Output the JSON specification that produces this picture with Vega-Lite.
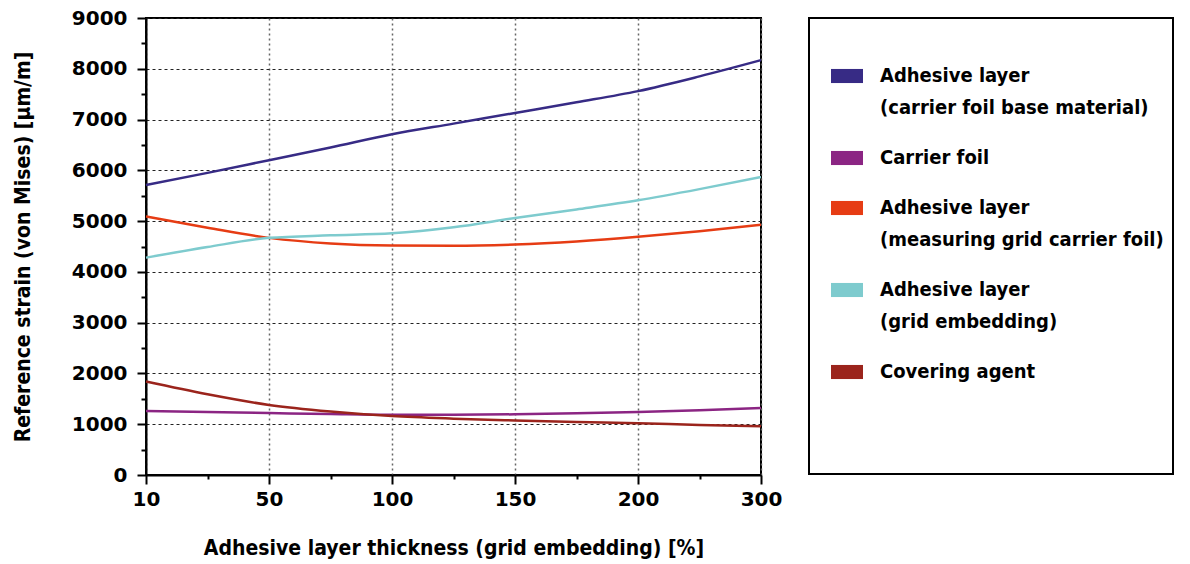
{
  "$schema": "https://vega.github.io/schema/vega-lite/v6.json",
  "padding": {"left": 11, "top": 7, "right": 0, "bottom": 0},
  "background": "white",
  "datasets": {
    "curves": [
      {"series": "Adhesive layer (carrier foil base material)", "x": 10, "y": 5710},
      {"series": "Adhesive layer (carrier foil base material)", "x": 30, "y": 5950},
      {"series": "Adhesive layer (carrier foil base material)", "x": 50, "y": 6200},
      {"series": "Adhesive layer (carrier foil base material)", "x": 75, "y": 6450},
      {"series": "Adhesive layer (carrier foil base material)", "x": 100, "y": 6710},
      {"series": "Adhesive layer (carrier foil base material)", "x": 125, "y": 6920},
      {"series": "Adhesive layer (carrier foil base material)", "x": 150, "y": 7130},
      {"series": "Adhesive layer (carrier foil base material)", "x": 175, "y": 7340},
      {"series": "Adhesive layer (carrier foil base material)", "x": 200, "y": 7560},
      {"series": "Adhesive layer (carrier foil base material)", "x": 250, "y": 7850},
      {"series": "Adhesive layer (carrier foil base material)", "x": 300, "y": 8170},
      {"series": "Carrier foil", "x": 10, "y": 1260},
      {"series": "Carrier foil", "x": 30, "y": 1240},
      {"series": "Carrier foil", "x": 50, "y": 1220},
      {"series": "Carrier foil", "x": 75, "y": 1200},
      {"series": "Carrier foil", "x": 100, "y": 1185},
      {"series": "Carrier foil", "x": 125, "y": 1185},
      {"series": "Carrier foil", "x": 150, "y": 1195},
      {"series": "Carrier foil", "x": 175, "y": 1215},
      {"series": "Carrier foil", "x": 200, "y": 1240},
      {"series": "Carrier foil", "x": 250, "y": 1275},
      {"series": "Carrier foil", "x": 300, "y": 1320},
      {"series": "Adhesive layer (measuring grid carrier foil)", "x": 10, "y": 5090},
      {"series": "Adhesive layer (measuring grid carrier foil)", "x": 30, "y": 4870},
      {"series": "Adhesive layer (measuring grid carrier foil)", "x": 50, "y": 4670},
      {"series": "Adhesive layer (measuring grid carrier foil)", "x": 75, "y": 4560},
      {"series": "Adhesive layer (measuring grid carrier foil)", "x": 100, "y": 4520},
      {"series": "Adhesive layer (measuring grid carrier foil)", "x": 125, "y": 4515},
      {"series": "Adhesive layer (measuring grid carrier foil)", "x": 150, "y": 4540},
      {"series": "Adhesive layer (measuring grid carrier foil)", "x": 175, "y": 4600},
      {"series": "Adhesive layer (measuring grid carrier foil)", "x": 200, "y": 4690},
      {"series": "Adhesive layer (measuring grid carrier foil)", "x": 250, "y": 4800},
      {"series": "Adhesive layer (measuring grid carrier foil)", "x": 300, "y": 4930},
      {"series": "Adhesive layer (grid embedding)", "x": 10, "y": 4280},
      {"series": "Adhesive layer (grid embedding)", "x": 30, "y": 4490},
      {"series": "Adhesive layer (grid embedding)", "x": 50, "y": 4670},
      {"series": "Adhesive layer (grid embedding)", "x": 75, "y": 4720},
      {"series": "Adhesive layer (grid embedding)", "x": 100, "y": 4760},
      {"series": "Adhesive layer (grid embedding)", "x": 125, "y": 4880},
      {"series": "Adhesive layer (grid embedding)", "x": 150, "y": 5060},
      {"series": "Adhesive layer (grid embedding)", "x": 175, "y": 5230},
      {"series": "Adhesive layer (grid embedding)", "x": 200, "y": 5410},
      {"series": "Adhesive layer (grid embedding)", "x": 250, "y": 5630},
      {"series": "Adhesive layer (grid embedding)", "x": 300, "y": 5870},
      {"series": "Covering agent", "x": 10, "y": 1840},
      {"series": "Covering agent", "x": 30, "y": 1590},
      {"series": "Covering agent", "x": 50, "y": 1380},
      {"series": "Covering agent", "x": 75, "y": 1250},
      {"series": "Covering agent", "x": 100, "y": 1160},
      {"series": "Covering agent", "x": 125, "y": 1110},
      {"series": "Covering agent", "x": 150, "y": 1075},
      {"series": "Covering agent", "x": 175, "y": 1045},
      {"series": "Covering agent", "x": 200, "y": 1020},
      {"series": "Covering agent", "x": 250, "y": 985},
      {"series": "Covering agent", "x": 300, "y": 960}
    ],
    "keys": [
      {"series": "Adhesive layer (carrier foil base material)"},
      {"series": "Carrier foil"},
      {"series": "Adhesive layer (measuring grid carrier foil)"},
      {"series": "Adhesive layer (grid embedding)"},
      {"series": "Covering agent"}
    ]
  },
  "hconcat": [
    {
      "width": 615,
      "height": 457,
      "view": {"stroke": "black", "strokeWidth": 2},
      "data": {"name": "curves"},
      "resolve": {"axis": {"x": "independent", "y": "independent"}},
      "layer": [
        {
          "mark": {"type": "line", "interpolate": "monotone", "strokeWidth": 2.5},
          "encoding": {
            "x": {
              "field": "x", "type": "quantitative",
              "scale": {"domain": [10, 50, 100, 150, 200, 300], "range": [0, 123, 246, 369, 492, 615], "zero": false, "nice": false},
              "axis": {
                "orient": "bottom",
                "values": [10, 50, 100, 150, 200, 300],
                "format": "d",
                "title": "Adhesive layer thickness (grid embedding) [%]",
                "tickSize": 9,
                "labelPadding": 5,
                "titlePadding": 28,
                "grid": true,
                "gridColor": "#666666",
                "gridDash": [2, 3],
                "gridWidth": 1.5,
                "labelFlush": false
              }
            },
            "y": {
              "field": "y", "type": "quantitative",
              "scale": {"domain": [0, 9000], "nice": false, "zero": false},
              "axis": {
                "orient": "left",
                "values": [0, 1000, 2000, 3000, 4000, 5000, 6000, 7000, 8000, 9000],
                "format": "d",
                "title": "Reference strain (von Mises) [µm/m]",
                "tickSize": 9,
                "labelPadding": 10,
                "titlePadding": 38,
                "grid": true,
                "gridColor": "#222222",
                "gridDash": [3, 3],
                "gridWidth": 1
              }
            },
            "color": {
              "field": "series", "type": "nominal",
              "scale": {
                "domain": ["Adhesive layer (carrier foil base material)", "Carrier foil", "Adhesive layer (measuring grid carrier foil)", "Adhesive layer (grid embedding)", "Covering agent"],
                "range": ["#372b85", "#8b2583", "#e63c14", "#7ecbce", "#9b241c"]
              },
              "legend": null
            }
          }
        },
        {
          "mark": {"type": "point", "opacity": 0},
          "encoding": {
            "x": {
              "field": "x", "type": "quantitative",
              "axis": {
                "orient": "bottom",
                "values": [30, 75, 125, 175, 250],
                "title": null,
                "labels": false,
                "domain": false,
                "grid": false,
                "tickSize": 4
              }
            },
            "y": {
              "field": "y", "type": "quantitative",
              "axis": {
                "orient": "left",
                "values": [500, 1500, 2500, 3500, 4500, 5500, 6500, 7500, 8500],
                "title": null,
                "labels": false,
                "domain": false,
                "grid": false,
                "tickSize": 5
              }
            }
          }
        }
      ]
    },
    {
      "width": 364,
      "height": 456,
      "view": {"stroke": "black", "strokeWidth": 2},
      "data": {"name": "keys"},
      "mark": {"type": "point", "filled": true, "opacity": 0},
      "encoding": {
        "color": {
          "field": "series", "type": "nominal",
          "scale": {
            "domain": ["Adhesive layer (carrier foil base material)", "Carrier foil", "Adhesive layer (measuring grid carrier foil)", "Adhesive layer (grid embedding)", "Covering agent"],
            "range": ["#372b85", "#8b2583", "#e63c14", "#7ecbce", "#9b241c"]
          },
          "legend": {
            "orient": "none",
            "legendX": 22,
            "legendY": 42,
            "title": null,
            "padding": 0,
            "symbolType": "M-1,-0.44H1V0.44H-1Z",
            "symbolSize": 1024,
            "symbolOpacity": 1,
            "symbolStrokeWidth": 0,
            "labelFont": "DejaVu Sans Condensed",
            "labelFontSize": 20,
            "labelFontWeight": "bold",
            "labelColor": "black",
            "labelBaseline": "top",
            "labelOffset": 17,
            "labelLimit": 0,
            "rowPadding": 24,
            "labelExpr": "split(replace(datum.label, ' (', '|('), '|')",
            "encode": {"labels": {"update": {"lineHeight": {"value": 32}, "dy": {"value": -10}}}}
          }
        }
      }
    }
  ],
  "spacing": 25,
  "resolve": {"scale": {"color": "independent"}, "legend": {"color": "independent"}},
  "config": {
    "font": "DejaVu Sans Condensed",
    "axis": {
      "domainColor": "black",
      "domainWidth": 2,
      "tickColor": "black",
      "tickWidth": 2,
      "labelColor": "black",
      "labelFont": "DejaVu Sans",
      "labelFontSize": 20,
      "labelFontWeight": "bold",
      "titleColor": "black",
      "titleFont": "DejaVu Sans Condensed",
      "titleFontSize": 21,
      "titleFontWeight": "bold"
    }
  }
}
